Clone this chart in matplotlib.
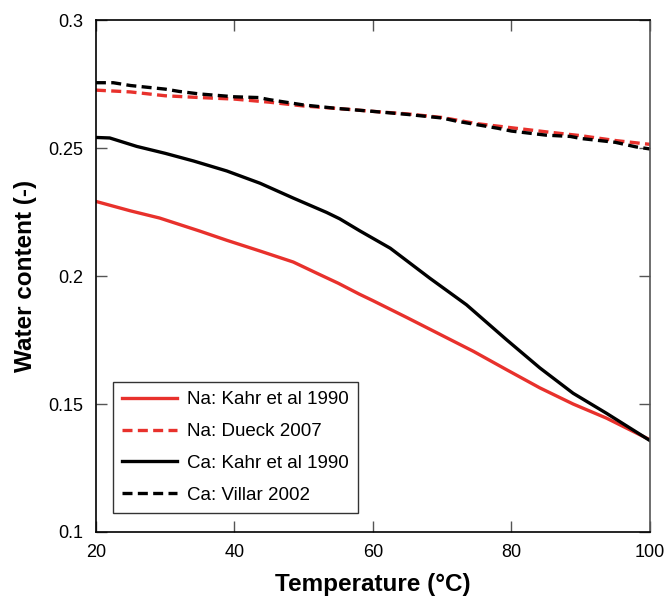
import numpy as np
import matplotlib.pyplot as plt

plt.rcParams['font.family'] = ['Liberation Sans', 'DejaVu Sans']

# Na: Kahr et al 1990
t_na_kahr = [20, 25, 29.2, 35, 38.9, 43.7, 48.5, 52, 55, 58, 60, 64.9,
             69.7, 74.5, 79.3, 84.1, 88.9, 93.7, 100]
w_na_kahr = [0.2292, 0.2255, 0.2227, 0.2176, 0.2140, 0.2098, 0.2055, 0.2010, 0.1972,
             0.1930, 0.1904, 0.1838, 0.1772, 0.1706, 0.1634, 0.1563, 0.1500, 0.1445, 0.1360]

# Na: Dueck 2007
t_na_dueck = [20, 25, 30, 35, 40, 45, 50, 55, 60, 65, 70, 75, 80, 85, 90, 95, 100]
w_na_dueck = [0.2727, 0.2720, 0.2705, 0.2698, 0.2692, 0.2680, 0.2665, 0.2655, 0.2644,
              0.2634, 0.2620, 0.2596, 0.2580, 0.2564, 0.2549, 0.2530, 0.2515]

# Ca: Kahr et al 1990
t_ca_kahr = [20, 22, 25.9, 30, 34.1, 38.9, 43.7, 48.5, 53.3, 55.2, 58.1, 62.5, 68.2,
             73.5, 79.3, 84.1, 88.9, 93.7, 100]
w_ca_kahr = [0.2542, 0.2540, 0.2507, 0.2480, 0.2450, 0.2411, 0.2363, 0.2305, 0.2249,
             0.2224, 0.2177, 0.2109, 0.1992, 0.1888, 0.1751, 0.1641, 0.1542, 0.1464, 0.1357]

# Ca: Villar 2002
t_ca_villar = [20, 22.5, 25, 30, 32, 35, 40, 43.5, 45, 50, 55, 60, 65, 70, 72, 75, 78,
               80, 85, 88.5, 90, 95, 98, 100]
w_ca_villar = [0.2756, 0.2756, 0.2745, 0.2731, 0.2722, 0.2712, 0.2701, 0.2698, 0.2690,
               0.2669, 0.2655, 0.2644, 0.2632, 0.2618, 0.2606, 0.2592, 0.2578, 0.2567,
               0.2551, 0.2546, 0.2538, 0.2523, 0.2505, 0.2497]

red = '#e8312c'
fig = plt.figure(figsize=(6.66, 5.97), dpi=100)
ax = fig.add_axes([0.144, 0.109, 0.832, 0.857])

ax.plot(t_na_kahr, w_na_kahr, color=red, lw=2.4, label='Na: Kahr et al 1990')
ax.plot(t_na_dueck, w_na_dueck, color=red, lw=2.4, dashes=(3, 1.6), label='Na: Dueck 2007')
ax.plot(t_ca_kahr, w_ca_kahr, color='black', lw=2.4, label='Ca: Kahr et al 1990')
ax.plot(t_ca_villar, w_ca_villar, color='black', lw=2.4, dashes=(3, 1.6), label='Ca: Villar 2002')

ax.set_xlim(20, 100)
ax.set_ylim(0.1, 0.3)
ax.set_xticks([20, 40, 60, 80, 100])
ax.set_yticks([0.1, 0.15, 0.2, 0.25, 0.3])
ax.set_yticklabels(['0.1', '0.15', '0.2', '0.25', '0.3'])
ax.tick_params(direction='in', length=8, width=1, color='#555555', top=True, right=True,
               labelsize=13)
ax.tick_params(axis='x', pad=9)
ax.tick_params(axis='y', pad=9)
for s in ax.spines.values():
    s.set_linewidth(1.2)
ax.spines['right'].set_color('#555555')

ax.set_xlabel('Temperature (°C)', fontsize=17.5, fontweight='bold', labelpad=8)
ax.set_ylabel('Water content (-)', fontsize=17.5, fontweight='bold', labelpad=8)

leg = ax.legend(loc='lower left', fontsize=13.5, handlelength=2.9, handletextpad=0.55,
                fancybox=False, edgecolor='#333333', framealpha=1, borderpad=0.5,
                labelspacing=0.78, borderaxespad=0, bbox_to_anchor=(0.031, 0.037))
leg.get_frame().set_linewidth(1.0)

fig.savefig('out.png', dpi=100)
